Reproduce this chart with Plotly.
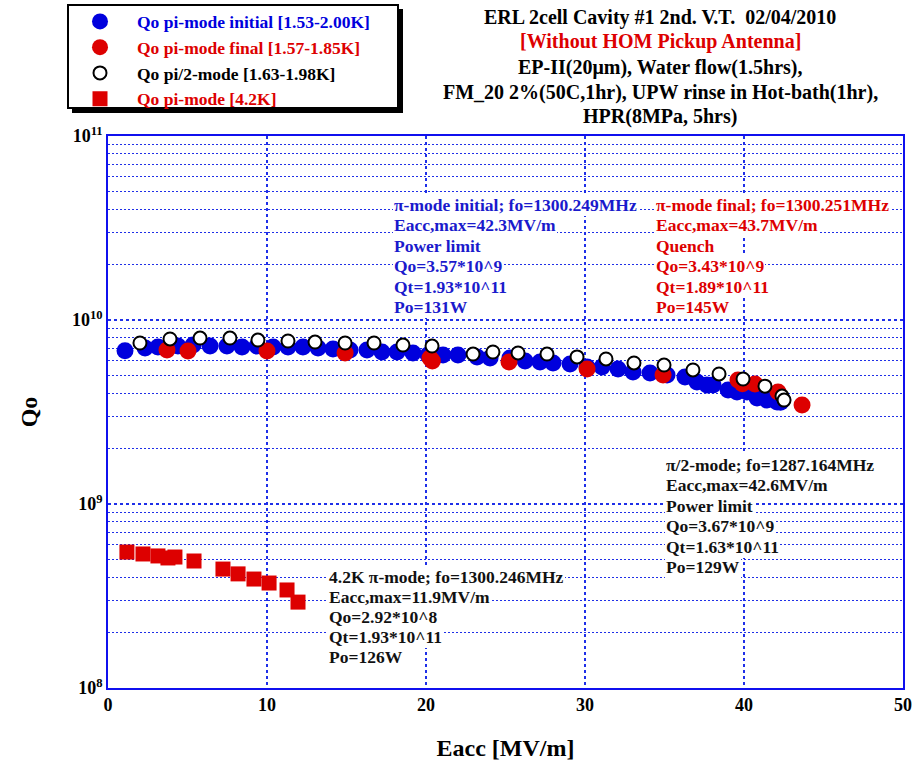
import plotly.graph_objects as go

# ---------------- data ----------------
pi_init_eacc = [1.07, 2.33, 3.14, 4.40, 5.35, 6.42, 7.48, 8.43, 9.37, 10.38, 11.32, 12.26, 13.21,
                14.15, 15.22, 16.29, 17.23, 18.18, 19.18, 20.13, 21.07, 22.01, 23.21, 24.03, 25.28,
                26.23, 27.17, 27.99, 29.06, 30.13, 31.07, 32.08, 33.02, 34.09, 35.16, 36.29, 37.04,
                37.67, 38.05, 39.0, 39.56, 40.19, 40.82, 41.45, 42.08, 42.3]
pi_init_q = [6.81e9, 7.05e9, 7.13e9, 7.22e9, 7.31e9, 7.22e9, 7.22e9, 7.13e9, 7.22e9, 7.13e9, 7.13e9,
             7.13e9, 7.05e9, 6.96e9, 6.87e9, 6.87e9, 6.70e9, 6.70e9, 6.62e9, 6.46e9, 6.46e9, 6.46e9,
             6.30e9, 6.22e9, 6.22e9, 5.98e9, 5.91e9, 5.84e9, 5.76e9, 5.56e9, 5.56e9, 5.42e9, 5.22e9,
             5.15e9, 5.02e9, 4.90e9, 4.60e9, 4.43e9, 4.43e9, 4.17e9, 4.06e9, 4.06e9, 3.77e9, 3.67e9,
             3.58e9, 3.57e9]

pi_final_eacc = [3.71, 5.03, 10.0, 14.91, 20.25, 20.4, 25.22, 30.13, 34.91, 39.62, 39.9, 40.69, 42.14, 43.65]
pi_final_q = [6.87e9, 6.79e9, 6.79e9, 6.62e9, 6.22e9, 5.98e9, 5.91e9, 5.42e9, 5.02e9, 4.72e9, 4.50e9,
              4.49e9, 4.06e9, 3.45e9]

half_eacc = [2.01, 3.90, 5.79, 7.67, 9.43, 11.32, 13.02, 14.91, 16.73, 18.55, 20.38, 22.96, 24.21,
             25.79, 27.61, 29.50, 31.32, 33.08, 34.97, 36.79, 38.43, 39.94, 41.32, 42.39, 42.52]
half_q = [7.50e9, 7.89e9, 7.98e9, 7.98e9, 7.78e9, 7.69e9, 7.59e9, 7.50e9, 7.50e9, 7.31e9, 7.22e9,
          6.53e9, 6.70e9, 6.62e9, 6.53e9, 6.30e9, 6.14e9, 5.84e9, 5.69e9, 5.35e9, 5.09e9, 4.78e9,
          4.37e9, 3.86e9, 3.67e9]

k42_eacc = [1.19, 2.20, 3.14, 3.77, 4.21, 5.41, 7.23, 8.18, 9.18, 10.13, 11.26, 11.95]
k42_q = [5.48e8, 5.35e8, 5.22e8, 5.09e8, 5.15e8, 4.90e8, 4.43e8, 4.17e8, 3.91e8, 3.72e8, 3.41e8, 2.93e8]

legend_names = ["Qo pi-mode initial [1.53-2.00K]", "Qo pi-mode final [1.57-1.85K]",
                "Qo pi/2-mode [1.63-1.98K]", "Qo pi-mode [4.2K]"]
x_tickvals = [0, 10, 20, 30, 40, 50]
y_tickvals = [1e8, 1e9, 1e10, 1e11]
y_ticktext = ["10<sup>8</sup>", "10<sup>9</sup>", "10<sup>10</sup>", "10<sup>11</sup>"]
y_minor = [m * 10 ** e for e in (8, 9, 10) for m in range(2, 10)]

title_lines = ["ERL 2cell Cavity #1 2nd. V.T.  02/04/2010", "[Without HOM Pickup Antenna]",
               "EP-II(20\u03bcm), Water flow(1.5hrs),",
               "FM_20 2%(50C,1hr), UPW rinse in Hot-bath(1hr),", "HPR(8MPa, 5hrs)"]
title_colors = ["black", "#dd0000", "black", "black", "black"]

block_init = ["\u03c0-mode initial; fo=1300.249MHz", "Eacc,max=42.3MV/m", "Power limit",
              "Qo=3.57*10^9", "Qt=1.93*10^11", "Po=131W"]
block_final = ["\u03c0-mode final; fo=1300.251MHz", "Eacc,max=43.7MV/m", "Quench",
               "Qo=3.43*10^9", "Qt=1.89*10^11", "Po=145W"]
block_half = ["\u03c0/2-mode; fo=1287.164MHz", "Eacc,max=42.6MV/m", "Power limit",
              "Qo=3.67*10^9", "Qt=1.63*10^11", "Po=129W"]
block_42 = ["4.2K \u03c0-mode; fo=1300.246MHz", "Eacc,max=11.9MV/m", "Qo=2.92*10^8",
            "Qt=1.93*10^11", "Po=126W"]

BLUE = "#0000dd"
RED = "#dd0000"
TXT_BLUE = "#1a1acc"
GRID = "#1f2fe8"
FONT = "Liberation Serif"

# layout geometry (pixels)
W, H = 919, 762
L, R, T, B = 108, 16, 136, 74
PW, PH = W - L - R, H - T - B


def px(xp):
    return (xp - L) / PW


def py(yp):
    return (H - B - yp) / PH


fig = go.Figure()
fig.add_trace(go.Scatter(x=pi_init_eacc, y=pi_init_q, mode="markers",
                         marker=dict(symbol="circle", size=17, color=BLUE),
                         name="<b><span style='color:%s'>%s</span></b>" % (BLUE, legend_names[0])))
fig.add_trace(go.Scatter(x=pi_final_eacc, y=pi_final_q, mode="markers",
                         marker=dict(symbol="circle", size=17, color=RED),
                         name="<b><span style='color:%s'>%s</span></b>" % (RED, legend_names[1])))
fig.add_trace(go.Scatter(x=half_eacc, y=half_q, mode="markers",
                         marker=dict(symbol="circle", size=13, color="white",
                                     line=dict(color="black", width=2)),
                         name="<b><span style='color:black'>%s</span></b>" % legend_names[2]))
fig.add_trace(go.Scatter(x=k42_eacc, y=k42_q, mode="markers",
                         marker=dict(symbol="square", size=15, color=RED),
                         name="<b><span style='color:%s'>%s</span></b>" % (RED, legend_names[3])))

annotations = []
for i, (line, col) in enumerate(zip(title_lines, title_colors)):
    annotations.append(dict(text="<b>%s</b>" % line, x=px(660), y=py(17 + i * 25),
                            xref="paper", yref="paper", xanchor="center", yanchor="middle",
                            showarrow=False, font=dict(family=FONT, size=20, color=col)))


def block(lines, x, y0, step, color):
    out = []
    for i, line in enumerate(lines):
        out.append(dict(text="<b>%s</b>" % line, x=px(x), y=py(y0 + i * step), xref="paper",
                        yref="paper", xanchor="left", yanchor="middle", align="left",
                        showarrow=False, bgcolor="white", borderpad=1, borderwidth=0,
                        font=dict(family=FONT, size=17.5, color=color)))
    return out


annotations += block(block_init, 393, 205, 20.4, TXT_BLUE)
annotations += block(block_final, 655, 205, 20.4, RED)
annotations += block(block_half, 665, 465, 20.4, "#111111")
annotations += block(block_42, 328, 577, 20.0, "#111111")

grid = dict(showgrid=True, gridcolor=GRID, gridwidth=1.5, griddash="3px,3px")

fig.update_layout(
    width=W, height=H, margin=dict(l=L, r=R, t=T, b=B, autoexpand=False),
    paper_bgcolor="white", plot_bgcolor="white",
    font=dict(family=FONT, color="black"),
    showlegend=True,
    legend=dict(x=px(63), y=py(3.5), xanchor="left", yanchor="top", bgcolor="rgba(0,0,0,0)",
                borderwidth=0, font=dict(family=FONT, size=17.5),
                tracegroupgap=0, itemsizing="trace", itemwidth=64),
    xaxis=dict(range=[0, 50], tickvals=x_tickvals, ticktext=["<b>%d</b>" % v for v in x_tickvals],
               showline=True, linecolor="#1010ee", linewidth=1.5,
               mirror=True, ticks="", zeroline=False,
               tickfont=dict(family=FONT, size=18, color="black"),
               title=dict(text="<b>Eacc [MV/m]</b>", font=dict(family=FONT, size=24), standoff=25),
               **grid),
    yaxis=dict(type="log", range=[8, 11], tickvals=y_tickvals,
               ticktext=["<b>%s</b>" % t for t in y_ticktext], showline=True,
               linecolor="#1010ee", linewidth=1.5, mirror=True, ticks="", zeroline=False,
               tickfont=dict(family=FONT, size=18, color="black"),
               title=dict(text="<b>Qo</b>", font=dict(family=FONT, size=24), standoff=28),
               minor=dict(tickvals=y_minor, showgrid=True, gridcolor=GRID, gridwidth=1.3,
                          griddash="2px,2px", ticks=""),
               **grid),
    annotations=annotations,
    shapes=[
        dict(type="rect", xref="paper", yref="paper", x0=px(72), x1=px(403), y0=py(113),
             y1=py(9), fillcolor="black", line=dict(width=0), layer="above"),
        dict(type="rect", xref="paper", yref="paper", x0=px(68), x1=px(398), y0=py(108),
             y1=py(5), fillcolor="white", line=dict(color="black", width=2), layer="above"),
    ],
)

fig.write_html("out.html", config={"displayModeBar": False},
               post_script="document.body.style.margin='0px';")
